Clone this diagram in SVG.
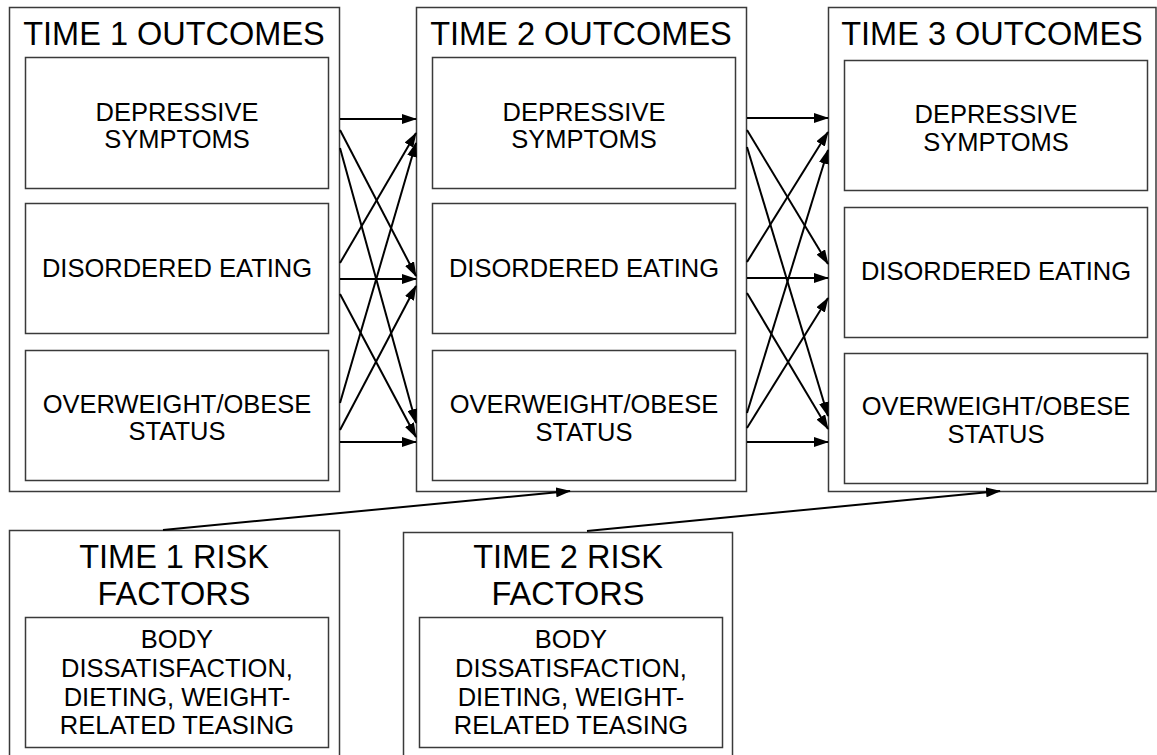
<svg xmlns="http://www.w3.org/2000/svg" width="1157" height="755" viewBox="0 0 1157 755">
<style>
  .box { fill: #ffffff; stroke: #3a3a3a; stroke-width: 1.5; }
  .title { font-family: "Liberation Sans", Arial, sans-serif; font-size: 32.5px; fill: #000; text-anchor: middle; }
  .lbl { font-family: "Liberation Sans", Arial, sans-serif; font-size: 25.5px; fill: #000; text-anchor: middle; }
  .arr { stroke: #000; stroke-width: 2; fill: none; marker-end: url(#ah); }
</style>
<defs>
  <marker id="ah" markerUnits="userSpaceOnUse" markerWidth="15" markerHeight="10" refX="14" refY="5" orient="auto">
    <path d="M0,0 L15,5 L0,10 Z" fill="#000"/>
  </marker>
</defs>
<rect width="1157" height="755" fill="#ffffff"/>

<g id="time1-outcomes">
  <rect class="box" x="9.5" y="7.5" width="330" height="484"/>
  <text class="title" x="174" y="45">TIME 1 OUTCOMES</text>
  <g id="t1-dep">
    <rect class="box" x="25.5" y="57.5" width="303" height="131"/>
    <text class="lbl" x="177" y="121">DEPRESSIVE</text>
    <text class="lbl" x="177" y="148">SYMPTOMS</text>
  </g>
  <g id="t1-dis">
    <rect class="box" x="25.5" y="203.5" width="303" height="130"/>
    <text class="lbl" x="177" y="277">DISORDERED EATING</text>
  </g>
  <g id="t1-ovw">
    <rect class="box" x="25.5" y="350.5" width="303" height="130"/>
    <text class="lbl" x="177" y="413">OVERWEIGHT/OBESE</text>
    <text class="lbl" x="177" y="440">STATUS</text>
  </g>
</g>

<g id="time2-outcomes">
  <rect class="box" x="416.5" y="7.5" width="330" height="484"/>
  <text class="title" x="581" y="45">TIME 2 OUTCOMES</text>
  <g id="t2-dep">
    <rect class="box" x="432.5" y="57.5" width="303" height="131"/>
    <text class="lbl" x="584" y="121">DEPRESSIVE</text>
    <text class="lbl" x="584" y="148">SYMPTOMS</text>
  </g>
  <g id="t2-dis">
    <rect class="box" x="432.5" y="203.5" width="303" height="130"/>
    <text class="lbl" x="584" y="277">DISORDERED EATING</text>
  </g>
  <g id="t2-ovw">
    <rect class="box" x="432.5" y="350.5" width="303" height="130"/>
    <text class="lbl" x="584" y="413">OVERWEIGHT/OBESE</text>
    <text class="lbl" x="584" y="441">STATUS</text>
  </g>
</g>

<g id="time3-outcomes">
  <rect class="box" x="828.5" y="7.5" width="327.5" height="484"/>
  <text class="title" x="992" y="45">TIME 3 OUTCOMES</text>
  <g id="t3-dep">
    <rect class="box" x="844.5" y="60.5" width="303" height="130"/>
    <text class="lbl" x="996" y="123">DEPRESSIVE</text>
    <text class="lbl" x="996" y="151">SYMPTOMS</text>
  </g>
  <g id="t3-dis">
    <rect class="box" x="844.5" y="207.5" width="303" height="130"/>
    <text class="lbl" x="996" y="280">DISORDERED EATING</text>
  </g>
  <g id="t3-ovw">
    <rect class="box" x="844.5" y="353.5" width="303" height="130"/>
    <text class="lbl" x="996" y="415">OVERWEIGHT/OBESE</text>
    <text class="lbl" x="996" y="443">STATUS</text>
  </g>
</g>

<g id="time1-risk">
  <rect class="box" x="9.5" y="530.5" width="330" height="240"/>
  <text class="title" x="174" y="568">TIME 1 RISK</text>
  <text class="title" x="174" y="605">FACTORS</text>
  <g id="t1-risk-inner">
    <rect class="box" x="25.5" y="617.5" width="303" height="130"/>
    <text class="lbl" x="177" y="648">BODY</text>
    <text class="lbl" x="177" y="677">DISSATISFACTION,</text>
    <text class="lbl" x="177" y="706">DIETING, WEIGHT-</text>
    <text class="lbl" x="177" y="734">RELATED TEASING</text>
  </g>
</g>

<g id="time2-risk">
  <rect class="box" x="403.5" y="532.5" width="329" height="240"/>
  <text class="title" x="568" y="568">TIME 2 RISK</text>
  <text class="title" x="568" y="605">FACTORS</text>
  <g id="t2-risk-inner">
    <rect class="box" x="419.5" y="617.5" width="303" height="130"/>
    <text class="lbl" x="571" y="648">BODY</text>
    <text class="lbl" x="571" y="677">DISSATISFACTION,</text>
    <text class="lbl" x="571" y="706">DIETING, WEIGHT-</text>
    <text class="lbl" x="571" y="734">RELATED TEASING</text>
  </g>
</g>

<g id="connectors">
  <!-- Time 1 to Time 2 -->
  <line class="arr" x1="340" y1="119" x2="416" y2="119"/>
  <line class="arr" x1="340" y1="279" x2="416" y2="279"/>
  <line class="arr" x1="340" y1="442" x2="416" y2="442"/>
  <line class="arr" x1="340" y1="130" x2="416" y2="276"/>
  <line class="arr" x1="340" y1="148" x2="416" y2="423"/>
  <line class="arr" x1="340" y1="263" x2="416" y2="133"/>
  <line class="arr" x1="340" y1="294" x2="416" y2="437"/>
  <line class="arr" x1="340" y1="403" x2="416" y2="143"/>
  <line class="arr" x1="340" y1="430" x2="416" y2="286"/>
  <!-- Time 2 to Time 3 -->
  <line class="arr" x1="747" y1="118" x2="828" y2="118"/>
  <line class="arr" x1="747" y1="278" x2="828" y2="278"/>
  <line class="arr" x1="747" y1="442" x2="828" y2="442"/>
  <line class="arr" x1="747" y1="130" x2="828" y2="264"/>
  <line class="arr" x1="747" y1="147" x2="828" y2="416"/>
  <line class="arr" x1="747" y1="262" x2="828" y2="132"/>
  <line class="arr" x1="747" y1="293" x2="828" y2="429"/>
  <line class="arr" x1="747" y1="413" x2="828" y2="150"/>
  <line class="arr" x1="747" y1="428" x2="828" y2="298"/>
  <!-- Risk factors to next outcomes -->
  <line class="arr" x1="163" y1="530" x2="570" y2="491"/>
  <line class="arr" x1="587" y1="531" x2="1000" y2="491"/>
</g>
</svg>
